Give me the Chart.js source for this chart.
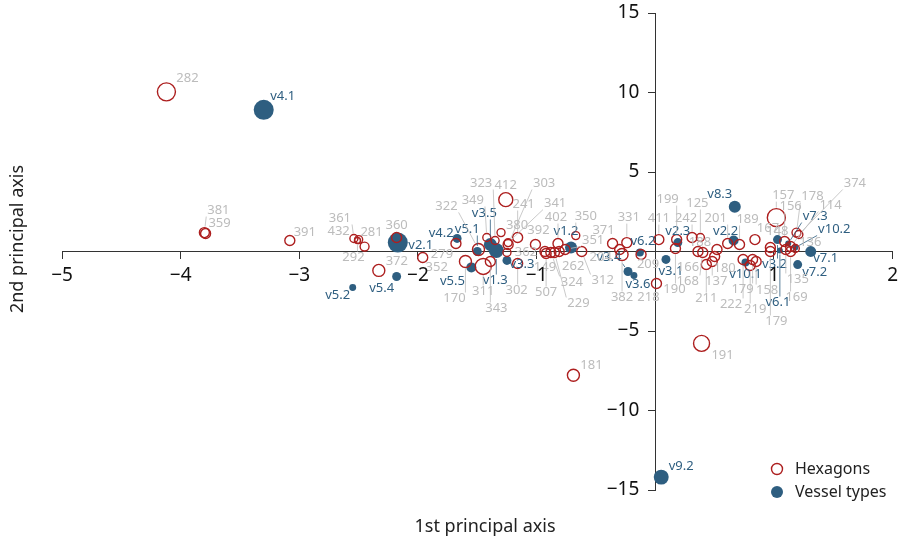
<!DOCTYPE html>
<html>
<head>
<meta charset="utf-8">
<script src="https://cdn.jsdelivr.net/npm/chart.js@4.4.1/dist/chart.umd.min.js"></script>
<style>
  body { margin: 0; background: #fff; }
  #wrap { width: 903px; height: 549px; }
</style>
</head>
<body>
<div id="wrap"><canvas id="pca"></canvas></div>
<script>
// hexagons: scores on 1st / 2nd axis, mass (drives bubble area)
const hexNames = ['282','381','359','391','361','432','281','292','360','372','279','352','322','349','323','412','303','241','341','380','392','362','402','350','149','507','324','229','262','351','312','170','311','343','302','331','371','204','382','209','218','411','199','190','242','125','166','168','211','137','180','188','201','189','222','179','219','158','167','148','157','156','178','374','114','136','135','169','179','181','191'];
const hexAxis1 = [-4.12,-3.80,-3.79,-3.08,-2.54,-2.50,-2.45,-2.51,-2.18,-2.33,-1.68,-1.96,-1.49,-1.42,-1.35,-1.26,-1.24,-1.16,-1.24,-1.30,-1.01,-1.25,-0.82,-0.67,-0.93,-0.92,-0.88,-0.85,-0.81,-0.76,-0.62,-1.60,-1.45,-1.39,-1.16,-0.24,-0.36,-0.30,-0.28,-0.12,0.01,0.03,0.18,0.17,0.31,0.38,0.36,0.40,0.43,0.48,0.50,0.52,0.61,0.71,0.74,0.82,0.80,0.85,0.84,0.97,1.02,1.09,1.19,1.21,1.14,1.18,1.10,1.14,0.97,-0.69,0.39];
const hexAxis2 = [10.04,1.19,1.13,0.69,0.82,0.75,0.31,0.69,0.88,-1.19,0.50,-0.38,0.13,0.88,0.69,3.26,0.44,0.88,0.56,1.19,0.44,-0.06,0.50,1.00,0.00,-0.13,-0.06,-0.06,0.00,0.13,0.00,-0.63,-0.94,-0.63,-0.75,0.56,0.50,0.13,-0.19,-0.19,-2.01,0.75,0.75,0.19,0.88,0.88,0.00,-0.06,-0.82,-0.63,-0.31,0.13,0.50,0.44,-0.50,-0.50,-0.88,-0.63,0.75,0.25,2.13,0.63,1.19,1.07,0.31,0.19,0.13,0.00,0.00,-7.78,-5.78];
const hexMass = [81,25,25,25,16,16,20,9,25,36,25,25,36,16,16,49,25,25,16,16,25,16,25,16,25,25,25,25,25,25,25,36,64,25,25,25,25,25,36,25,25,25,25,25,25,16,25,25,25,25,25,25,25,25,25,25,25,25,25,25,81,25,20,16,25,16,25,25,25,36,64];

// vessel types
const vesselNames = ['v4.1','v2.1','v5.2','v5.4','v4.2','v5.1','v3.5','v1.3','v5.5','v3.3','v1.2','v3.4','v3.6','v6.2','v3.1','v2.3','v8.3','v2.2','v10.1','v3.2','v6.1','v7.3','v10.2','v7.1','v7.2','v9.2'];
const vesselAxis1 = [-3.30,-2.17,-2.55,-2.18,-1.67,-1.50,-1.39,-1.34,-1.55,-1.25,-0.71,-0.23,-0.18,-0.13,0.09,0.19,0.67,0.66,0.76,1.03,1.05,1.12,1.18,1.31,1.20,0.05];
const vesselAxis2 = [8.91,0.56,-2.26,-1.57,0.82,0.00,0.44,0.06,-1.00,-0.56,0.25,-1.26,-1.51,-0.06,-0.50,0.56,2.82,0.69,-0.69,0.75,0.06,0.50,0.25,0.00,-0.82,-14.19];
const vesselMass = [100,100,12,20,20,20,42,56,25,20,36,20,12,16,20,20,36,25,16,20,9,9,9,30,20,56];

const xTickValues = [-5,-4,-3,-2,-1,1,2];
const yTickValues = [-15,-10,-5,5,10,15];

// label nudges in pixels (repelled label layout)
const hexNudge = [[21,-14],[14,-22],[14,-10],[15,-8],[-14,-20],[-20,-8],[7,-14],[-4,17],[0,-12],[18,-9],[-14,11],[14,10],[-32,-43],[-14,-37],[-14,-57],[0,-14],[36,-61],[6,-33],[47,-39],[16,-7],[3,-14],[19,0],[-2,-26],[10,-19],[0,16],[0,39],[21,30],[24,51],[14,15],[28,-9],[21,29],[-11,37],[0,25],[6,47],[-1,27],[2,-25],[-9,-13],[-19,8],[0,43],[7,10],[-8,14],[0,-21],[-9,-40],[-1,41],[-6,-19],[-3,-34],[-10,16],[-15,29],[0,34],[4,20],[10,12],[-17,-7],[-12,-25],[8,-25],[-12,45],[-10,30],[5,44],[11,29],[13,-11],[7,-16],[7,-22],[6,-35],[16,-36],[56,-51],[40,-41],[15,-6],[12,30],[6,46],[6,70],[18,-10],[21,12]];
const vesselNudge = [[19,-14],[23,3],[-15,8],[-15,12],[-16,-5],[-10,-22],[-6,-31],[-1,30],[-19,14],[15,4],[-5,-16],[-19,-14],[4,9],[3,-11],[5,12],[0,-11],[-15,-12],[-8,-9],[0,12],[-3,25],[-2,52],[27,-27],[39,-18],[15,7],[17,8],[20,-11]];

const RED = '#ad1f1f';
const BLUE = '#2e5e80';
const GREY = '#bcbcbc';

Chart.defaults.font.family = '"Noto Sans", sans-serif';

function toPoints(xs, ys, ms) {
  return xs.map((x, i) => ({ x: x, y: ys[i], r: Math.sqrt(ms[i]) }));
}

function fmt(v) {
  return v < 0 ? '\u2212' + Math.abs(v) : String(v);
}

function drawLabels(chart, dsIndex, names, nudge, textColor, lineColor) {
  const ctx = chart.ctx;
  const pts = chart.getDatasetMeta(dsIndex).data;
  const raw = chart.data.datasets[dsIndex].data;
  pts.forEach((p, i) => {
    const r = raw[i].r;
    const lx = p.x + nudge[i][0];
    const ly = p.y + nudge[i][1];
    const w = ctx.measureText(names[i]).width;
    const h = 10;
    // nearest point of the label box to the point
    const qx = Math.min(Math.max(p.x, lx - w / 2 - 1), lx + w / 2 + 1);
    const qy = Math.min(Math.max(p.y, ly - h / 2 - 1), ly + h / 2 + 1);
    const d = Math.hypot(qx - p.x, qy - p.y);
    if (d > r + 5) {
      ctx.strokeStyle = lineColor;
      ctx.lineWidth = 0.8;
      ctx.beginPath();
      ctx.moveTo(p.x + (qx - p.x) / d * (r + 1), p.y + (qy - p.y) / d * (r + 1));
      ctx.lineTo(qx, qy);
      ctx.stroke();
    }
    ctx.fillStyle = textColor;
    ctx.fillText(names[i], lx, ly);
  });
}

const annotate = {
  id: 'annotate',
  afterDatasetsDraw(chart) {
    const ctx = chart.ctx;
    ctx.save();
    ctx.font = '13px "Noto Sans"';
    ctx.textAlign = 'center';
    ctx.textBaseline = 'middle';
    drawLabels(chart, 1, vesselNames, vesselNudge, BLUE, BLUE);
    drawLabels(chart, 0, hexNames, hexNudge, GREY, GREY);
    ctx.restore();
  },
  afterDraw(chart) {
    const ctx = chart.ctx;
    const xs = chart.scales.x, ys = chart.scales.y;
    ctx.save();
    // tick labels next to the crossing axes
    ctx.fillStyle = '#111';
    ctx.font = '19px "Noto Sans"';
    ctx.textBaseline = 'middle';
    const axisX = xs.getPixelForValue(0);
    const axisY = ys.getPixelForValue(0);
    ctx.textAlign = 'right';
    yTickValues.forEach(v => ctx.fillText(fmt(v), axisX - 16, ys.getPixelForValue(v)));
    ctx.textAlign = 'center';
    xTickValues.forEach(v => ctx.fillText(fmt(v), xs.getPixelForValue(v), axisY + 24));

    // axis titles
    ctx.fillStyle = '#222';
    ctx.font = '18px "Noto Sans"';
    ctx.fillText('1st principal axis', 485, 527);
    ctx.translate(18, 239);
    ctx.rotate(-Math.PI / 2);
    ctx.fillText('2nd principal axis', 0, 0);
    ctx.restore();

    // legend
    ctx.save();
    ctx.beginPath();
    ctx.arc(777, 469, 5.5, 0, Math.PI * 2);
    ctx.strokeStyle = RED;
    ctx.lineWidth = 1.4;
    ctx.stroke();
    ctx.beginPath();
    ctx.arc(777, 492, 6, 0, Math.PI * 2);
    ctx.fillStyle = BLUE;
    ctx.fill();
    ctx.fillStyle = '#222';
    ctx.font = '16px "Noto Sans"';
    ctx.textAlign = 'left';
    ctx.textBaseline = 'middle';
    ctx.fillText('Hexagons', 795, 469);
    ctx.fillText('Vessel types', 795, 492);
    ctx.restore();
  }
};

new Chart(document.getElementById('pca'), {
  type: 'bubble',
  data: {
    datasets: [
      {
        label: 'Hexagons',
        data: toPoints(hexAxis1, hexAxis2, hexMass),
        backgroundColor: 'rgba(255,255,255,0)',
        borderColor: RED,
        borderWidth: 1.4
      },
      {
        label: 'Vessel types',
        data: toPoints(vesselAxis1, vesselAxis2, vesselMass),
        backgroundColor: BLUE,
        borderColor: BLUE,
        borderWidth: 0
      }
    ]
  },
  options: {
    responsive: true,
    maintainAspectRatio: false,
    animation: false,
    events: [],
    layout: { padding: { left: 62, right: 7, top: 13, bottom: 59 } },
    plugins: { legend: { display: false }, tooltip: { enabled: false } },
    scales: {
      x: {
        type: 'linear',
        position: { y: 0 },
        min: -5,
        max: 2,
        afterBuildTicks: s => { s.ticks = xTickValues.map(v => ({ value: v })); },
        ticks: { display: false },
        grid: { drawOnChartArea: false, drawTicks: true, tickLength: 7, color: '#333' },
        border: { display: true, color: '#333', width: 1 }
      },
      y: {
        type: 'linear',
        position: { x: 0 },
        min: -15,
        max: 15,
        afterBuildTicks: s => { s.ticks = yTickValues.map(v => ({ value: v })); },
        ticks: { display: false },
        grid: { drawOnChartArea: false, drawTicks: true, tickLength: 7, color: '#333' },
        border: { display: true, color: '#333', width: 1 }
      }
    }
  },
  plugins: [annotate]
});
</script>
</body>
</html>
